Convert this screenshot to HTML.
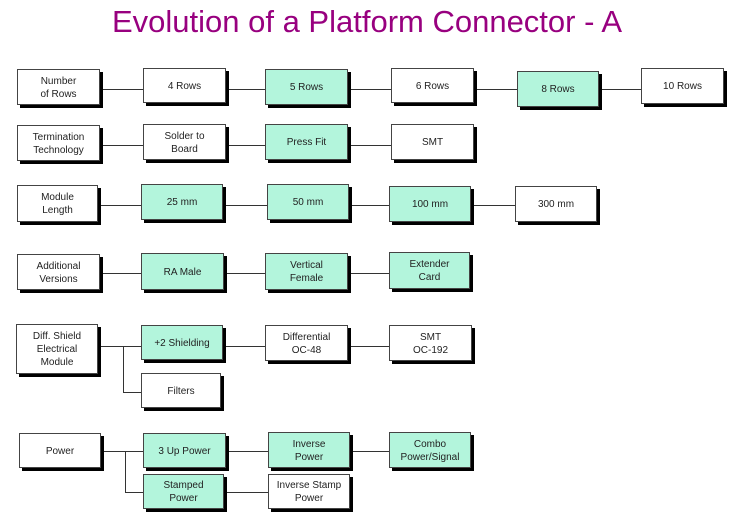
<!DOCTYPE html>
<html><head><meta charset="utf-8"><style>
body{margin:0;width:752px;height:526px;background:#fff;position:relative;overflow:hidden;font-family:"Liberation Sans",Arial,sans-serif}
.t{position:absolute;left:0;top:4px;width:752px;text-align:center;font-size:31px;color:#98007f}
.b{position:absolute;box-sizing:border-box;border:1px solid #444;background:#fff;box-shadow:3px 3px 0 #000;font-size:10px;color:#222;display:flex;align-items:center;justify-content:center;text-align:center;line-height:13px;padding-top:1px}
.g{background:#b3f5dc}
.h{position:absolute;height:1px;background:#333}
.v{position:absolute;width:1px;background:#333}
</style></head><body>
<div class="t" style="left:-9px">Evolution of a Platform Connector - A</div>

<div class="h" style="left:100px;top:89px;width:541px"></div>
<div class="h" style="left:100px;top:145px;width:291px"></div>
<div class="h" style="left:98px;top:205px;width:417px"></div>
<div class="h" style="left:100px;top:273px;width:289px"></div>
<div class="h" style="left:98px;top:346px;width:291px"></div>
<div class="v" style="left:123px;top:346px;height:46px"></div>
<div class="h" style="left:123px;top:392px;width:18px"></div>
<div class="h" style="left:101px;top:451px;width:288px"></div>
<div class="v" style="left:125px;top:451px;height:41px"></div>
<div class="h" style="left:125px;top:492px;width:143px"></div>

<div class="b" style="left:17px;top:69px;width:83px;height:36px">Number<br>of Rows</div>
<div class="b" style="left:143px;top:68px;width:83px;height:35px">4 Rows</div>
<div class="b g" style="left:265px;top:69px;width:83px;height:36px">5 Rows</div>
<div class="b" style="left:391px;top:68px;width:83px;height:35px">6 Rows</div>
<div class="b g" style="left:517px;top:71px;width:82px;height:36px">8 Rows</div>
<div class="b" style="left:641px;top:68px;width:83px;height:36px">10 Rows</div>

<div class="b" style="left:17px;top:125px;width:83px;height:36px">Termination<br>Technology</div>
<div class="b" style="left:143px;top:124px;width:83px;height:36px">Solder to<br>Board</div>
<div class="b g" style="left:265px;top:124px;width:83px;height:36px">Press Fit</div>
<div class="b" style="left:391px;top:124px;width:83px;height:36px">SMT</div>

<div class="b" style="left:17px;top:185px;width:81px;height:37px">Module<br>Length</div>
<div class="b g" style="left:141px;top:184px;width:82px;height:36px">25 mm</div>
<div class="b g" style="left:267px;top:184px;width:82px;height:36px">50 mm</div>
<div class="b g" style="left:389px;top:186px;width:82px;height:36px">100 mm</div>
<div class="b" style="left:515px;top:186px;width:82px;height:36px">300 mm</div>

<div class="b" style="left:17px;top:254px;width:83px;height:36px">Additional<br>Versions</div>
<div class="b g" style="left:141px;top:253px;width:83px;height:37px">RA Male</div>
<div class="b g" style="left:265px;top:253px;width:83px;height:37px">Vertical<br>Female</div>
<div class="b g" style="left:389px;top:252px;width:81px;height:37px">Extender<br>Card</div>

<div class="b" style="left:16px;top:324px;width:82px;height:50px">Diff. Shield<br>Electrical<br>Module</div>
<div class="b g" style="left:141px;top:325px;width:82px;height:35px">+2 Shielding</div>
<div class="b" style="left:265px;top:325px;width:83px;height:36px">Differential<br>OC-48</div>
<div class="b" style="left:389px;top:325px;width:83px;height:36px">SMT<br>OC-192</div>
<div class="b" style="left:141px;top:373px;width:80px;height:35px">Filters</div>

<div class="b" style="left:19px;top:433px;width:82px;height:35px">Power</div>
<div class="b g" style="left:143px;top:433px;width:83px;height:35px">3 Up Power</div>
<div class="b g" style="left:268px;top:432px;width:82px;height:36px">Inverse<br>Power</div>
<div class="b g" style="left:389px;top:432px;width:82px;height:36px">Combo<br>Power/Signal</div>
<div class="b g" style="left:143px;top:474px;width:81px;height:35px">Stamped<br>Power</div>
<div class="b" style="left:268px;top:474px;width:82px;height:35px">Inverse Stamp<br>Power</div>
</body></html>
